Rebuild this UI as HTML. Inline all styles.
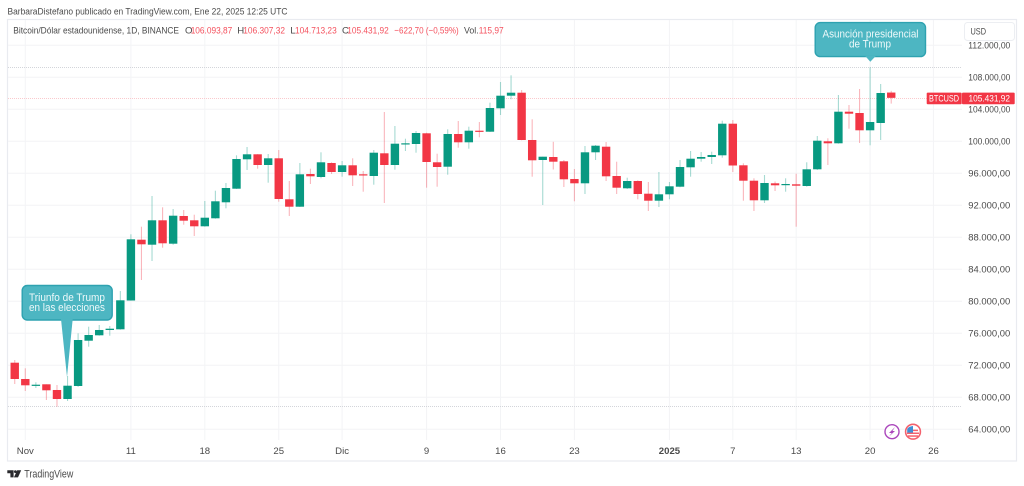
<!DOCTYPE html>
<html lang="es">
<head>
<meta charset="utf-8">
<title>BTCUSD TradingView chart</title>
<style>
html,body{margin:0;padding:0;background:#fff;width:1024px;height:486px;overflow:hidden}
svg{display:block;filter:blur(0.35px)}
text{font-family:"Liberation Sans",sans-serif}
</style>
</head>
<body>
<svg id="chart" xmlns="http://www.w3.org/2000/svg" width="1024" height="486" viewBox="0 0 1024 486">
  <rect x="0" y="0" width="1024" height="486" fill="#ffffff"/>
  <text x="7.5" y="14.3" font-size="9.6" fill="#4a4a4a" textLength="280" lengthAdjust="spacingAndGlyphs">BarbaraDistefano publicado en TradingView.com, Ene 22, 2025 12:25 UTC</text>
  <rect x="7.5" y="19.5" width="1009" height="441.5" fill="#ffffff" stroke="#e9ebf0" stroke-width="1.2"/>
  <g id="grid"></g>
  <g id="levels"></g>
  <g id="candles"></g>

  <g font-size="9.6">
    <text x="13.3" y="33.6" fill="#4a4a4a" textLength="165.7" lengthAdjust="spacingAndGlyphs">Bitcoin/Dólar estadounidense, 1D, BINANCE</text>
    <text x="185" y="33.6" fill="#4a4a4a">O</text>
    <text x="190.7" y="33.6" fill="#f4505d" textLength="41.6" lengthAdjust="spacingAndGlyphs">106.093,87</text>
    <text x="237.3" y="33.6" fill="#4a4a4a">H</text>
    <text x="243.3" y="33.6" fill="#f4505d" textLength="41.7" lengthAdjust="spacingAndGlyphs">106.307,32</text>
    <text x="290.3" y="33.6" fill="#4a4a4a">L</text>
    <text x="295" y="33.6" fill="#f4505d" textLength="41.7" lengthAdjust="spacingAndGlyphs">104.713,23</text>
    <text x="342" y="33.6" fill="#4a4a4a">C</text>
    <text x="347.3" y="33.6" fill="#f4505d" textLength="41.4" lengthAdjust="spacingAndGlyphs">105.431,92</text>
    <text x="394.3" y="33.6" fill="#f4505d" textLength="64.4" lengthAdjust="spacingAndGlyphs">−622,70 (−0,59%)</text>
    <text x="464" y="33.6" fill="#4a4a4a" textLength="14.7" lengthAdjust="spacingAndGlyphs">Vol.</text>
    <text x="478.7" y="33.6" fill="#f4505d" textLength="25" lengthAdjust="spacingAndGlyphs">115,97</text>
  </g>

  <g id="price-axis"></g>
  <g id="time-axis"></g>
  <g id="last-price"></g>

  <g>
    <rect x="964.5" y="22.5" width="50" height="18" rx="3" fill="#ffffff" stroke="#eceef2"/>
    <text x="970.5" y="34.6" font-size="9.6" fill="#4a4a4a" textLength="15.5" lengthAdjust="spacingAndGlyphs">USD</text>
  </g>

  <g>
    <rect x="22.2" y="285.5" width="90" height="34.5" rx="5" fill="#4db6c2" stroke="#2ea2b0" stroke-width="1.4"/>
    <polygon points="61,319 72.7,319 67,377" fill="#4db6c2"/>
    <text x="29" y="300.8" font-size="10.6" fill="#eef9fa" textLength="76" lengthAdjust="spacingAndGlyphs">Triunfo de Trump</text>
    <text x="29" y="310.8" font-size="10.6" fill="#eef9fa" textLength="76" lengthAdjust="spacingAndGlyphs">en las elecciones</text>
  </g>

  <g>
    <rect x="815.2" y="22.6" width="110.3" height="34" rx="5" fill="#4db6c2" stroke="#2ea2b0" stroke-width="1.4"/>
    <polygon points="865,55.8 876,55.8 870.3,61.7" fill="#4db6c2"/>
    <text x="822.5" y="37.5" font-size="10.6" fill="#eef9fa" textLength="96" lengthAdjust="spacingAndGlyphs">Asunción presidencial</text>
    <text x="849" y="47.5" font-size="10.6" fill="#eef9fa" textLength="42" lengthAdjust="spacingAndGlyphs">de Trump</text>
  </g>

  <g>
    <circle cx="892" cy="431.7" r="7" fill="#ffffff" stroke="#ab47bc" stroke-width="1.4"/>
    <polygon points="895,427 889,433 891.8,433 889,436.5 895,431 892.4,431" fill="#ab47bc"/>
  </g>
  <g>
    <circle cx="913" cy="431.7" r="7.4" fill="#ffffff" stroke="#f4616d" stroke-width="1.6"/>
    <rect x="908" y="429.6" width="10" height="1.5" fill="#f4616d"/>
    <rect x="907" y="432.5" width="12" height="1.5" fill="#f4616d"/>
    <rect x="908" y="435.3" width="10" height="1.5" fill="#f4616d"/>
    <path d="M907.2 432.6 V429 Q908.5 426.5 913 426 V432.6 Z" fill="#3f8fd6"/>
  </g>

  <g>
    <path d="M7.3 470.2 H13.6 V477.4 H10.4 V473.2 H7.3 Z M17.2 470.2 H21.2 L18 477.4 H13.9 Z" fill="#2a2a2e"/>
    <circle cx="15.4" cy="471.6" r="1.4" fill="#2a2a2e"/>
    <text x="24.3" y="477.5" font-size="10.8" fill="#4a4a4a" textLength="49" lengthAdjust="spacingAndGlyphs">TradingView</text>
  </g>
</svg>

<script>
// Candle data (USD), 31 Oct 2024 to 22 Jan 2025.
const opens = [72325,70288,69500,69625,68913,67788,69413,75075,75750,76413,76500,80100,87700,87075,90125,87200,90663,90125,89375,90375,92375,94075,97750,98375,97038,97875,92750,91825,95913,95538,97288,96163,97000,95875,95663,98500,97038,99663,99663,101000,97375,96825,100913,99875,101325,101200,104125,105700,106075,100163,97663,98038,97500,95288,94750,98625,99325,95663,94125,95038,93450,92575,93375,94325,96750,97825,98038,98250,102200,97000,95075,92625,94750,94575,94625,94413,96500,100000,99750,103700,103538,101375,102288,106093.87];
const highs = [72663,71625,69875,69625,69538,70663,76000,76825,77038,76913,81288,88375,89325,93163,91750,91538,91413,90825,92538,93825,94788,98250,99288,98400,98413,98913,95038,97288,96575,98625,97375,97538,97875,96288,98913,103663,101913,100325,101288,101075,98450,101500,102538,101825,102413,104825,107413,108250,106413,102750,98075,99938,97663,96538,99413,99538,99913,97450,95450,95125,94913,96163,94913,97663,98788,98663,98700,102575,102663,97250,95375,95788,94975,95375,95950,97375,100663,100375,105788,104538,106538,109250,107163,106307.32];
const lows = [69663,68788,69163,67663,66825,67538,69300,74325,75700,75700,76450,80075,82663,85038,86700,87075,89575,88163,89325,90325,91625,94038,96413,96575,94825,92450,90663,91788,94663,95375,95913,95575,94413,93700,94575,92288,96450,98788,98575,94200,94325,95825,99200,99075,100500,101163,103288,105250,100125,95575,92038,96475,94288,92500,93413,97663,95038,93413,94038,92750,91288,91788,92750,94250,95575,97450,97163,97950,96163,92575,91288,92288,93788,93700,89325,94325,96413,97038,99700,101575,99788,99500,100163,104713.23];
const closes = [70288,69500,69575,68875,67788,69450,75163,75788,76413,76575,80125,87750,87125,90125,87250,90700,90075,89375,90450,92500,94163,97788,98375,97038,97875,92788,91825,95875,95625,97375,96163,97000,95750,95750,98575,97038,99700,99750,101038,97413,96788,100913,99875,101325,101200,104163,105700,106075,100163,97625,98075,97450,95250,94750,98625,99450,95625,94200,95038,93413,92575,93375,94375,96788,97825,98038,98288,102200,96975,95075,92625,94788,94500,94663,94450,96500,100075,99750,103700,103450,101375,102413,106038,105431.92];
const priceTicks = [64000,68000,72000,76000,80000,84000,88000,92000,96000,100000,104000,108000,112000];
const timeLabels = ["Nov","11","18","25","Dic","9","16","23","2025","7","13","20","26"];
const timeSlots = [1,11,18,25,31,39,46,53,62,68,74,81,87];
const symbolName = "BTCUSD";

const NS = "http://www.w3.org/2000/svg";
const UP = "#089981", DOWN = "#f23645";
const BODY_W = 8.4;

function xScale(slot){ return 14.74 + slot * 10.56; }
function yScale(price){ return 429.3 - (price - 64000) * 0.008; }
function fmtPrice(v){
  const parts = v.toFixed(2).split(".");
  return parts[0].replace(/\B(?=(\d{3})+$)/g, ".") + "," + parts[1];
}
function mk(tag, attrs, parent){
  const el = document.createElementNS(NS, tag);
  for (const k in attrs) el.setAttribute(k, attrs[k]);
  parent.appendChild(el);
  return el;
}

const gridG = document.getElementById("grid");
const levelsG = document.getElementById("levels");
const candlesG = document.getElementById("candles");
const priceG = document.getElementById("price-axis");
const timeG = document.getElementById("time-axis");
const lastG = document.getElementById("last-price");
const PLOT_L = 8, PLOT_R = 962, PLOT_T = 20, PLOT_B = 440;

priceTicks.forEach(function(p){
  const y = yScale(p);
  const line = mk("line", {x1:PLOT_L, x2:PLOT_R, y1:y, y2:y, stroke:"#f3f4f6", "stroke-width":1}, gridG);
  
  
  const t = mk("text", {x:968.3, y:y + 3.2, "font-size":9.6, fill:"#4a4a4a", textLength:42, lengthAdjust:"spacingAndGlyphs"}, priceG);
  
  
  t.textContent = fmtPrice(p);
});

timeSlots.forEach(function(s, i){
  const x = xScale(s);
  const line = mk("line", {x1:x, x2:x, y1:PLOT_T, y2:PLOT_B, stroke:"#f3f4f6", "stroke-width":1}, gridG);
  
  
  const t = mk("text", {x:x, y:454.2, "font-size":9.6, "text-anchor":"middle", fill:"#4a4a4a"}, timeG);
  
  
  if (timeLabels[i] === "2025") t.setAttribute("font-weight", "bold");
  t.textContent = timeLabels[i];
});

const maxHigh = Math.max.apply(null, highs);
const minLow = Math.min.apply(null, lows);
const lastClose = closes[closes.length - 1];
const highY = Math.round(yScale(maxHigh)) + 0.5;
const lowY = Math.round(yScale(minLow)) - 0.5;
const closeY = Math.round(yScale(lastClose)) + 0.5;

const highLine = mk("line", {x1:PLOT_L, x2:PLOT_R, y1:highY, y2:highY, stroke:"#d3d5da", "stroke-width":1, "stroke-dasharray":"1 1"}, levelsG);


const lowLine = mk("line", {x1:PLOT_L, x2:PLOT_R, y1:lowY, y2:lowY, stroke:"#d3d5da", "stroke-width":1, "stroke-dasharray":"1 1"}, levelsG);


const closeLine = mk("line", {x1:PLOT_L, x2:PLOT_R, y1:closeY, y2:closeY, stroke:"#fac9cd", "stroke-width":1, "stroke-dasharray":"1 1"}, levelsG);



closes.forEach(function(c, i){
  const o = opens[i];
  const col = c >= o ? UP : DOWN;
  const x = xScale(i);
  const wick = mk("line", {x1:x, x2:x, y1:yScale(highs[i]), y2:yScale(lows[i]), stroke:col, "stroke-opacity":0.36, "stroke-width":1.1}, candlesG);
  
  
  const top = yScale(Math.max(o, c));
  const h = Math.max(yScale(Math.min(o, c)) - top, 1.2);
  const body = mk("rect", {x:x - BODY_W / 2, y:top, width:BODY_W, height:h, fill:col}, candlesG);
  
  
});

const tagY = yScale(lastClose) - 5.2;
const symBox = mk("rect", {x:926.7, y:tagY, width:35, height:11.6, rx:1, fill:DOWN}, lastG);


const symText = mk("text", {x:929, y:tagY + 9.1, "font-size":9.6, fill:"#ffffff", textLength:30, lengthAdjust:"spacingAndGlyphs"}, lastG);


symText.textContent = symbolName;
const priceBox = mk("rect", {x:962, y:tagY, width:52.7, height:11.6, rx:1, fill:DOWN}, lastG);


const priceText = mk("text", {x:968.5, y:tagY + 9.1, "font-size":9.6, fill:"#ffffff", textLength:41.5, lengthAdjust:"spacingAndGlyphs"}, lastG);


priceText.textContent = fmtPrice(lastClose);
</script>
</body>
</html>
